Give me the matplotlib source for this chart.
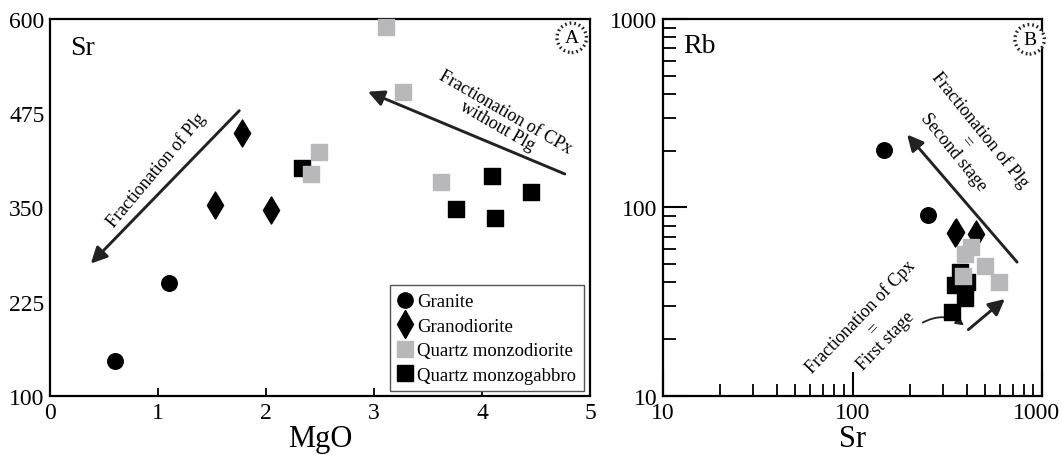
import numpy as np
import matplotlib
matplotlib.use("Agg")
import matplotlib.pyplot as plt
import matplotlib.transforms as mtransforms
from matplotlib.lines import Line2D
from matplotlib.patches import FancyArrowPatch
from matplotlib.ticker import FixedLocator, FixedFormatter, NullFormatter, LogLocator

plt.rcParams['font.family'] = ['Liberation Serif', 'DejaVu Serif']

# ---- data ----
granite_mgo = [0.60, 1.10]
granite_sr = [147, 250]
granite_rb = [201, 91]

granodiorite_mgo = [1.53, 1.78, 2.05]
granodiorite_sr = [353, 449, 347]
granodiorite_rb = [74, 72, 73]

qmd_mgo = [3.11, 3.27, 2.49, 2.42, 3.62]
qmd_sr = [590, 503, 423, 394, 384]
qmd_rb = [40.4, 49, 61.4, 56.5, 43.5]

qmg_mgo = [2.33, 4.09, 4.45, 3.76, 4.12]
qmg_sr = [403, 392, 370, 348, 336]
qmg_rb = [40.4, 33.1, 45.3, 38.8, 28.0]

legend_names = ['Granite', 'Granodiorite', 'Quartz monzodiorite', 'Quartz monzogabbro']
grey = '#b8b8ba'

fig = plt.figure(figsize=(10.62, 4.56), dpi=100)
axA = fig.add_axes([0.0471, 0.1294, 0.5085, 0.8268])
axB = fig.add_axes([0.6243, 0.1294, 0.3569, 0.8268])

for ax in (axA, axB):
    for s in ax.spines.values():
        s.set_linewidth(1.6)
    ax.tick_params(direction='in', labelsize=17, width=1.3, pad=4, top=False, right=False)

circ = dict(boxstyle='circle,pad=0.32', fc='white', ec='#222222', lw=2.4, ls=(0, (0.5, 0.9)))
arrow = dict(arrowstyle='-|>', lw=2.1, color='#222222', mutation_scale=24)

#### panel A : Sr vs MgO ####
axA.scatter(granite_mgo, granite_sr, s=125, marker='o', c='k', zorder=3, clip_on=False)
axA.scatter(granodiorite_mgo, granodiorite_sr, s=190, marker='d', c='k', zorder=3)
axA.scatter(qmg_mgo, qmg_sr, s=125, marker='s', c='k', zorder=3)
axA.scatter(qmd_mgo, qmd_sr, s=125, marker='s', c=grey, zorder=4, clip_on=False)

axA.set_xlim(0, 5)
axA.set_ylim(100, 600)
axA.set_xticks([0, 1, 2, 3, 4, 5])
axA.set_yticks([100, 225, 350, 475, 600])
axA.tick_params(axis='y', length=0)
axA.tick_params(axis='x', length=6)
axA.set_xlabel('MgO', fontsize=22, labelpad=1)

axA.text(0.3, 562, 'Sr', fontsize=20, ha='center', va='center')
axA.text(4.83, 575, 'A', fontsize=14, ha='center', va='center', bbox=circ)

axA.annotate('', xy=(0.36, 273), xytext=(1.77, 481), arrowprops=arrow)
axA.annotate('', xy=(2.92, 505), xytext=(4.79, 393), arrowprops=arrow)
axA.text(0.98, 400, 'Fractionation of Plg', fontsize=13, rotation=50,
         ha='center', va='center', rotation_mode='anchor')
axA.text(4.18, 468, 'Fractionation of CPx\nwithout Plg', fontsize=13, rotation=-30,
         ha='center', va='center', rotation_mode='anchor', linespacing=0.95)

handles = [
    Line2D([], [], ls='none', marker='o', mfc='k', mec='k', ms=11),
    Line2D([], [], ls='none', marker='d', mfc='k', mec='k', ms=14),
    Line2D([], [], ls='none', marker='s', mfc=grey, mec=grey, ms=11),
    Line2D([], [], ls='none', marker='s', mfc='k', mec='k', ms=11),
]
leg = axA.legend(handles, legend_names, loc='lower right', bbox_to_anchor=(0.988, 0.012),
                 borderaxespad=0, fancybox=False, fontsize=13.5, handlelength=0.8,
                 handletextpad=0.25, labelspacing=0.4, borderpad=0.4, framealpha=1)
leg.get_frame().set_edgecolor('#555555')
leg.get_frame().set_linewidth(1.0)

#### panel B : Rb vs Sr ####
axB.set_xscale('log')
axB.set_yscale('log')
axB.scatter(granite_sr, granite_rb, s=125, marker='o', c='k', zorder=3)
axB.scatter(granodiorite_sr, granodiorite_rb, s=190, marker='d', c='k', zorder=3)
axB.scatter(qmg_sr, qmg_rb, s=125, marker='s', c='k', zorder=3)
axB.scatter(qmd_sr, qmd_rb, s=125, marker='s', c=grey, zorder=4)

axB.set_xlim(10, 1000)
axB.set_ylim(10, 1000)
for axis in (axB.xaxis, axB.yaxis):
    axis.set_major_locator(FixedLocator([10, 100, 1000]))
    axis.set_major_formatter(FixedFormatter(['10', '100', '1000']))
    axis.set_minor_locator(LogLocator(base=10, subs=np.arange(2, 10)))
    axis.set_minor_formatter(NullFormatter())
axB.tick_params(which='major', length=17, width=1.5)
axB.tick_params(which='minor', direction='in', length=9, width=1.3, top=False, right=False)
axB.set_xlabel('Sr', fontsize=22, labelpad=1)

# keep the "1000" label inside the figure like the reference
fig.canvas.draw()
lab = axB.get_xticklabels()[-1]
lab.set_transform(lab.get_transform() + mtransforms.ScaledTranslation(-0.06, 0, fig.dpi_scale_trans))

axB.text(15.5, 720, 'Rb', fontsize=20, ha='center', va='center')
axB.text(860, 780, 'B', fontsize=14, ha='center', va='center', bbox=circ)

axB.annotate('', xy=(190, 250), xytext=(755, 50), arrowprops=arrow)
axB.annotate('', xy=(653, 33.4), xytext=(398, 22), arrowprops=arrow)
axB.add_patch(FancyArrowPatch((228, 24.1), (398, 23.2), connectionstyle='arc3,rad=-0.35',
                              arrowstyle='-|>', lw=1.3, color='#222222', mutation_scale=12))
axB.text(400, 228, 'Fractionation of Plg\n=\nSecond stage', fontsize=13, rotation=-51,
         ha='center', va='center', rotation_mode='anchor', linespacing=1.0)
axB.text(128, 23, 'Fractionation of Cpx\n=\nFirst stage', fontsize=13, rotation=46,
         ha='center', va='center', rotation_mode='anchor', linespacing=1.0)

plt.savefig('out.png', dpi=100)
